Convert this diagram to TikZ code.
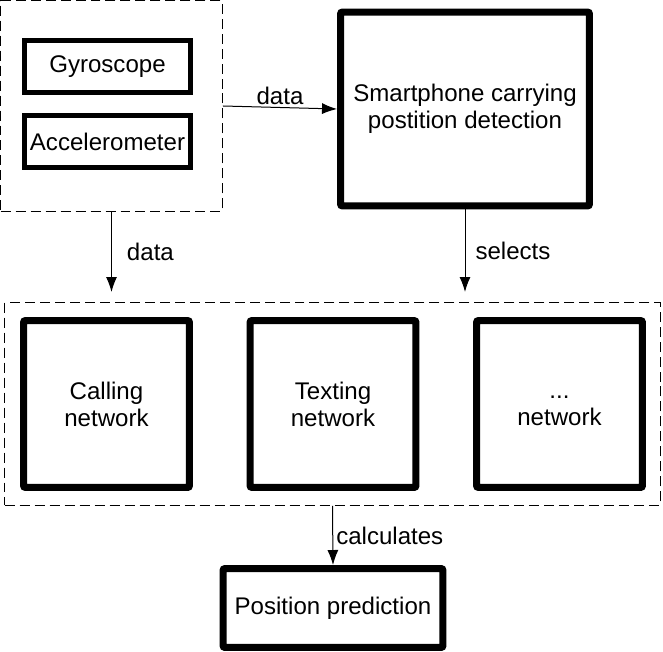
\documentclass[tikz,border=0pt]{standalone}
\usepackage{fontspec}
\setmainfont{Liberation Sans}
\usetikzlibrary{
	arrows.meta,
	positioning,
}

\begin{document}
\begin{tikzpicture}[x=0.02cm, y=-0.02cm,
	font=\fontsize{13.7}{15.4}\selectfont,
	group/.style={draw, dash pattern=on 0.2cm off 0.1cm, line width=0.02cm, inner sep=0pt},
	sensor/.style={draw, line width=0.1cm, minimum width=3.32cm, minimum height=1.04cm, inner sep=0pt},
	block/.style={draw, line width=0.14cm, rounded corners=0.04cm, align=center, inner sep=0pt},
	net/.style={block, minimum width=3.32cm, minimum height=3.34cm},
	flow/.style={-{Latex[length=0.3cm, width=0.22cm]}, line width=0.02cm},
	]
	\useasboundingbox (0,0) rectangle (663,652);
	% sensors
	\node[group, minimum width=4.44cm, minimum height=4.22cm] (sensors) at (111.5,106) {};
	\node[sensor] (gyro) at (107.5,66.5) {Gyroscope};
	\node[sensor] (accel) at (107.5,141.5) {Accelerometer};
	\node[block, minimum width=4.98cm, minimum height=3.88cm] (phone) at (465,109) {Smartphone carrying\\postition detection};
	% networks
	\node[group, minimum width=13.12cm, minimum height=4.06cm] (nets) at (332.5,404) {};
	\node[net] (calling) at (106.5,404) {Calling\\network};
	\node[net] (texting) at (333,404) {Texting\\network};
	\node[net] (other) at (559.5,404) {\vphantom{Cg}...\\network};
	\node[block, minimum width=4.4cm, minimum height=1.58cm] (pred) at (333,608) {Position prediction};
	\coordinate (dataend) at (111.5,292);
	\coordinate (selend) at (465,292);
	% connectors
	\draw[flow] (sensors.east) -- node[above=0.05cm, inner sep=0pt]{data} (phone.west);
	\draw[flow] (sensors.south) -- node[right=0.3cm, inner sep=0pt]{data} (dataend);
	\draw[flow] (phone.south) -- node[right=0.2cm, inner sep=0pt]{selects} (selend);
	\draw[flow] (nets.south) -- node[right=0.06cm, inner sep=0pt]{calculates} (pred.north);
\end{tikzpicture}
\end{document}
